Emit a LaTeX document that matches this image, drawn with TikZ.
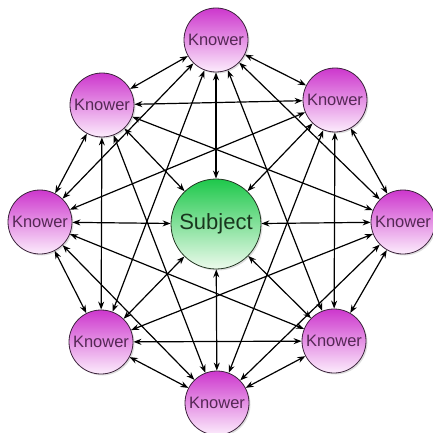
\documentclass[tikz,border=0pt]{standalone}
\usepackage{fontspec}
\setmainfont{Liberation Sans}
\usetikzlibrary{arrows.meta,shadows}
\definecolor{ktop}{RGB}{205,55,205}
\definecolor{kmid}{RGB}{230,130,230}
\definecolor{kbot}{RGB}{252,236,252}
\definecolor{kborder}{RGB}{60,35,60}
\definecolor{ktext}{RGB}{85,40,85}
\definecolor{stop}{RGB}{30,200,75}
\definecolor{smid}{RGB}{110,225,135}
\definecolor{sbot}{RGB}{236,250,236}
\definecolor{sborder}{RGB}{35,55,35}
\definecolor{stext}{RGB}{25,55,30}
\begin{document}
\begin{tikzpicture}[x=1pt,y=-1pt,
  knower/.style={circle, draw=kborder, line width=0.8pt, minimum size=64pt, inner sep=0pt,
    top color=ktop, middle color=kmid, bottom color=kbot, text=ktext,
    font=\fontsize{16.5}{18}\selectfont,
    drop shadow={opacity=0.25, shadow xshift=1.5pt, shadow yshift=-1.5pt}},
  subject/.style={circle, draw=sborder, line width=0.8pt, minimum size=90pt, inner sep=0pt,
    top color=stop, middle color=smid, bottom color=sbot, text=stext,
    font=\fontsize{22}{24}\selectfont,
    drop shadow={opacity=0.25, shadow xshift=1.5pt, shadow yshift=-1.5pt}},
  link/.style={line width=1.2pt, {Stealth[length=8pt,width=6pt]}-{Stealth[length=8pt,width=6pt]}}
]
\useasboundingbox (0,0) rectangle (432,433);
\node[subject] (s) at (216,224) {Subject};
\node[knower] (k1) at (216,40) {Knower};
\node[knower] (k2) at (335,100) {Knower};
\node[knower] (k3) at (403,222) {Knower};
\node[knower] (k4) at (334,341) {Knower};
\node[knower] (k5) at (217,403) {Knower};
\node[knower] (k6) at (101,342) {Knower};
\node[knower] (k7) at (40,222) {Knower};
\node[knower] (k8) at (102,105) {Knower};
\foreach \i in {1,...,8}{
  \foreach \d in {1,2,3}{
    \pgfmathtruncatemacro\j{mod(\i+\d-1,8)+1}
    \draw[link] (k\i) -- (k\j);
  }
  \draw[link] (k\i) -- (s);
}
\end{tikzpicture}
\end{document}
